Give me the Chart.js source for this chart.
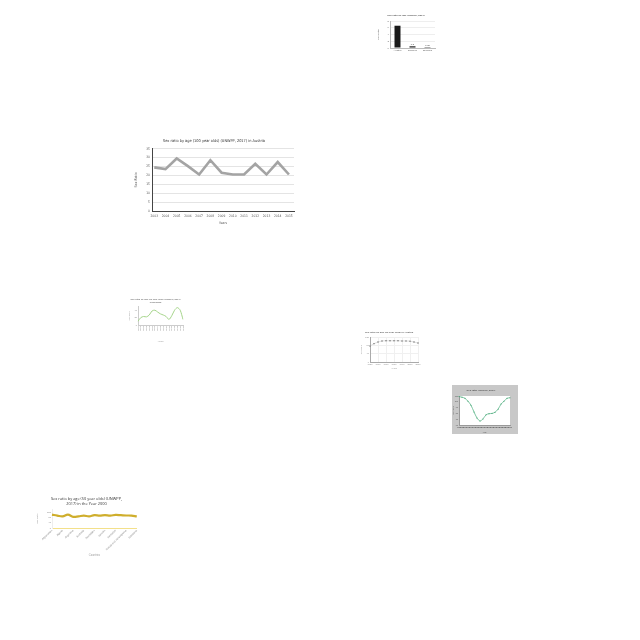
<!DOCTYPE html>
<html><head><meta charset="utf-8">
<script src="https://cdn.jsdelivr.net/npm/chart.js@4.4.1/dist/chart.umd.min.js"></script>
<style>
html,body{margin:0;padding:0;background:#fff;width:640px;height:640px;overflow:hidden}
.box{position:absolute}
</style></head><body>
<div class="box" style="left:134px;top:134px;width:162px;height:94px"><canvas id="c1"></canvas></div>
<div class="box" style="left:377px;top:12px;width:62px;height:44px"><canvas id="c2"></canvas></div>
<div class="box" style="left:128px;top:296px;width:60px;height:47px"><canvas id="c3"></canvas></div>
<div class="box" style="left:360px;top:329px;width:62px;height:41px"><canvas id="c4"></canvas></div>
<div class="box" style="left:452px;top:385px;width:66px;height:49px;background:#c8c8c8"><canvas id="c5"></canvas></div>
<div class="box" style="left:36px;top:495px;width:104px;height:62px"><canvas id="c6"></canvas></div>
<script>
// ---- Chart 1: main (Austria, 100 year olds)
const mainTitle = 'Sex ratio by age (100 year olds) (UNWPP, 2017) in Austria';
const mainYears = [2003,2004,2005,2006,2007,2008,2009,2010,2011,2012,2013,2014,2015];
const mainValues = [24.5,23.5,29.5,25.2,20.5,28.5,21.5,20.5,20.5,26.5,20.5,27.5,20.5];

// ---- Chart 2: bar chart (top right)
const barTitle = 'Sex ratio by age (UNWPP, 2017)';
const barCategories = ['Austria','Belgium','Bulgaria'];
const barValues = [6.6,0.5,0.25];
const barLabels = ['','0.5','0.25'];

// ---- Chart 3: green line
const c3Title = ['Sex ratio by age (90 year olds) (UNWPP, 2017)','in Belgium'];
const c3Years = ['2000','2001','2002','2003','2004','2005','2006','2007','2008','2009','2010','2011','2012','2013','2014','2015','2016'];
const c3Values = [10,20,23,22,27,38,40,35,30,27,23,15,25,40,47,40,15];

// ---- Chart 4: points
const c4Title = 'Sex ratio by age (60 year olds) in Austria';
const c4Years = ['1950','1955','1960','1965','1970','1975','1980','1985','1990','1995','2000','2005','2010'];
const c4Values = [77,88,96,101,102,102,102,102,101,101,100,96,91];

// ---- Chart 5: grey frame
const c5Title = 'Sex ratio (UNWPP, 2017)';
const c5Years = ['1950','1955','1960','1965','1970','1975','1980','1985','1990','1995','2000','2005','2010','2015','2020','2025','2030','2035'];
const c5Values = [109,108,106,101,94,82.5,72,67,70.5,77.5,79.5,80,82,87,96,101,106,107];

// ---- Chart 6: gold line
const c6Title = ['Sex ratio by age (50 year olds) (UNWPP,','2017) in the Year 2000'];
const c6Countries = ['Afghanistan','Albania','Algeria','Angola','Argentina','Armenia','Australia','Austria','Azerbaijan','Bahamas','Bahrain','Bangladesh','Barbados','Belarus','Bosnia and Herzegovina','Belize','Botswana'];
const c6Values = [100,93,87,100,84,87,93,87,96,93,96,93,98,96,94,93,87];

const NARROW = '"Liberation Sans Narrow","DejaVu Sans Condensed","Roboto",sans-serif';
const SANS = '"Open Sans","Noto Sans",sans-serif';
Chart.defaults.animation = false;
Chart.defaults.responsive = true;
Chart.defaults.maintainAspectRatio = false;
Chart.defaults.plugins.legend.display = false;
Chart.defaults.plugins.tooltip.enabled = false;

// Chart 1
new Chart(document.getElementById('c1'), {
  type: 'line',
  data: { datasets: [{ data: mainYears.map((y,i)=>({x:y, y:mainValues[i]})), borderColor:'#a4a4a4', borderWidth:2.6, pointRadius:0, tension:0 }] },
  options: {
    layout:{padding:{left:0,right:2,top:0,bottom:3}},
    plugins:{ title:{display:true, text:mainTitle, font:{family:NARROW,size:3.9,weight:'normal'}, color:'#333', padding:{top:5,bottom:5}} },
    scales:{
      x:{ type:'linear', min:2002.8, max:2015.45,
          ticks:{stepSize:1, includeBounds:false, callback:v=>String(v), font:{family:NARROW,size:3.3}, color:'#555', padding:3, maxRotation:0, autoSkip:false},
          grid:{display:false, drawTicks:false}, border:{color:'#444',width:1},
          title:{display:true, text:'Years', font:{family:NARROW,size:3.4}, color:'#555', padding:{top:1,bottom:0}},
          afterFit(s){ s.height = 14; } },
      y:{ min:0, max:35,
          ticks:{stepSize:5, font:{family:NARROW,size:3.3}, color:'#555', padding:2},
          grid:{color:'#e4e4e4', drawTicks:false}, border:{color:'#444',width:1},
          title:{display:true, text:'Sex Ratio', font:{family:NARROW,size:3.6}, color:'#555', padding:{top:0,bottom:1}},
          afterFit(s){ s.width = 18; } }
    }
  }
});

// Chart 2
const barLabelPlugin = { id:'barLabels', afterDatasetsDraw(chart){
  const ctx = chart.ctx; const meta = chart.getDatasetMeta(0);
  ctx.save(); ctx.font = '2.5px "Liberation Sans",sans-serif'; ctx.fillStyle='#555'; ctx.textAlign='center';
  meta.data.forEach((el,i)=>{ if (barLabels[i]) ctx.fillText(barLabels[i], el.x, el.y-1.5); });
  ctx.restore(); } };
new Chart(document.getElementById('c2'), {
  type:'bar',
  data:{ labels:barCategories, datasets:[{ data:barValues, backgroundColor:'#1a1a1a', barPercentage:0.5, categoryPercentage:0.8 }] },
  options:{
    layout:{padding:{left:0,right:4,top:0,bottom:0}},
    plugins:{ title:{display:true, text:barTitle, font:{family:'"Liberation Sans",sans-serif',size:2.5}, color:'#555', padding:{top:2,bottom:4}} },
    scales:{
      x:{ ticks:{font:{size:2.5}, color:'#666', padding:1, maxRotation:0}, grid:{display:false, drawTicks:false}, border:{color:'#bbb'}, afterFit(s){ s.height=8; } },
      y:{ min:0, max:8, ticks:{stepSize:1, font:{size:2.5}, color:'#666', padding:1}, grid:{color:'#eee', drawTicks:false}, border:{color:'#bbb'},
          title:{display:true, text:'Sex Ratio', font:{size:2.5}, color:'#666', padding:0}, afterFit(s){ s.width=13; } }
    }
  },
  plugins:[barLabelPlugin]
});

// Chart 3
new Chart(document.getElementById('c3'), {
  type:'line',
  data:{ labels:c3Years, datasets:[{ data:c3Values, borderColor:'#a5d48a', borderWidth:1, pointRadius:0, tension:0.3 }] },
  options:{
    layout:{padding:{left:0,right:5,top:0,bottom:0}},
    plugins:{ title:{display:true, text:c3Title, font:{size:2.3}, color:'#777', padding:{top:2,bottom:3}, lineHeight:1.8} },
    scales:{
      x:{ ticks:{font:{size:2.2}, color:'#888', padding:1, minRotation:90, maxRotation:90, autoSkip:false}, grid:{display:false, drawTicks:false}, border:{color:'#ccc'},
          title:{display:true, text:'Years', font:{size:2.3}, color:'#999', padding:0}, afterFit(s){ s.height=18; } },
      y:{ min:0, max:50, ticks:{stepSize:10, font:{size:2.2}, color:'#888', padding:1}, grid:{display:false, drawTicks:false}, border:{color:'#ccc'},
          title:{display:true, text:'Sex Ratio', font:{size:2.2}, color:'#999', padding:0}, afterFit(s){ s.width=10; } }
    }
  }
});

// Chart 4
new Chart(document.getElementById('c4'), {
  type:'line',
  data:{ labels:c4Years, datasets:[{ data:c4Values, borderColor:'#ccc', borderWidth:0.6, pointRadius:0.7, pointBackgroundColor:'#666', pointBorderWidth:0, tension:0 }] },
  options:{
    layout:{padding:{left:0,right:4,top:0,bottom:0}},
    plugins:{ title:{display:true, text:c4Title, font:{size:2.5}, color:'#666', padding:{top:2,bottom:3}} },
    scales:{
      x:{ ticks:{font:{size:2.2}, color:'#888', padding:1, maxRotation:0, autoSkip:true}, grid:{color:'#f0f0f0', drawTicks:false}, border:{color:'#aaa'},
          title:{display:true, text:'Years', font:{size:2.2}, color:'#999', padding:0}, afterFit(s){ s.height=8; } },
      y:{ min:0, max:120, ticks:{stepSize:20, font:{size:2.2}, color:'#888', padding:1}, grid:{color:'#f0f0f0', drawTicks:false}, border:{color:'#aaa'},
          title:{display:true, text:'Sex Ratio', font:{size:2.2}, color:'#999', padding:0}, afterFit(s){ s.width=10; } }
    }
  }
});

// Chart 5
const whiteArea = { id:'whiteArea', beforeDraw(chart){ const a=chart.chartArea, ctx=chart.ctx; ctx.save(); ctx.fillStyle='#fff'; ctx.fillRect(a.left,a.top,a.right-a.left,a.bottom-a.top); ctx.restore(); } };
new Chart(document.getElementById('c5'), {
  type:'line',
  data:{ labels:c5Years, datasets:[{ data:c5Values, borderColor:'#5cb88a', borderWidth:0.8, pointRadius:0.5, pointBackgroundColor:'#3a9a6a', pointBorderWidth:0, tension:0.3 }] },
  options:{
    layout:{padding:{left:0,right:8,top:0,bottom:0}},
    plugins:{ title:{display:true, text:c5Title, font:{size:2.5}, color:'#555', padding:{top:4,bottom:4}} },
    scales:{
      x:{ ticks:{font:{size:2}, color:'#555', padding:1, maxRotation:0, autoSkip:false}, grid:{display:false, drawTicks:false}, border:{color:'#999'},
          title:{display:true, text:'Year', font:{size:2}, color:'#555', padding:0}, afterFit(s){ s.height=9; } },
      y:{ min:60, max:110, ticks:{stepSize:10, font:{size:2}, color:'#555', padding:1}, grid:{display:false, drawTicks:false}, border:{color:'#999'},
          title:{display:true, text:'Sex Ratio', font:{size:2}, color:'#555', padding:0}, afterFit(s){ s.width=7; } }
    }
  },
  plugins:[whiteArea]
});

// Chart 6
new Chart(document.getElementById('c6'), {
  type:'line',
  data:{ labels:c6Countries, datasets:[{ data:c6Values, borderColor:'#cfae2c', borderWidth:2.2, pointRadius:0, tension:0.4 }] },
  options:{
    layout:{padding:{left:0,right:3,top:0,bottom:0}},
    plugins:{ title:{display:true, text:c6Title, font:{family:SANS,size:3.9,weight:'normal'}, color:'#333', padding:{top:2,bottom:3}, lineHeight:1.4} },
    scales:{
      x:{ ticks:{font:{size:2.6}, color:'#888', padding:1, minRotation:45, maxRotation:45, autoSkip:false, callback:function(v,i){ return i%2===0 ? this.getLabelForValue(v) : ''; }},
          grid:{display:false, drawTicks:false}, border:{color:'#f3e08a'},
          title:{display:true, text:'Countries', font:{size:2.6}, color:'#999', padding:{top:1,bottom:0}}, afterFit(s){ s.height=29; } },
      y:{ min:0, max:140, ticks:{stepSize:20, font:{size:2.4}, color:'#888', padding:1}, grid:{display:false, drawTicks:false}, border:{color:'#eee'},
          title:{display:true, text:'Sex Ratio', font:{size:2.4}, color:'#999', padding:0}, afterFit(s){ s.width=16; } }
    }
  }
});
</script>
</body></html>
